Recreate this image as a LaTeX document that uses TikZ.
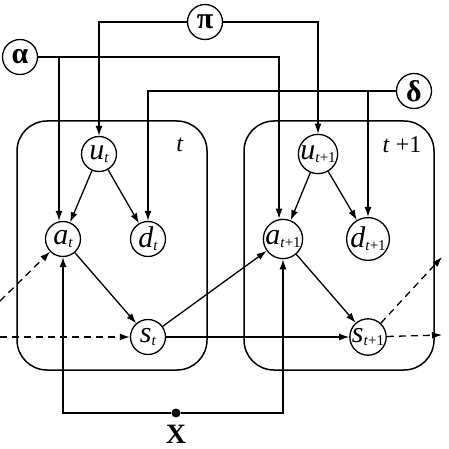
\documentclass[tikz,border=0pt]{standalone}
\usepackage{fontspec}
\setmainfont{Liberation Serif}
\usetikzlibrary{arrows.meta,calc}
\newcommand{\vsub}[2]{{\fontsize{30}{30}\selectfont\itshape #1}\raisebox{-0.3em}{\fontsize{15}{15}\selectfont #2}}
\newcommand{\grk}[1]{{\fontsize{30}{30}\selectfont\bfseries #1}}
\tikzset{
  var/.style={circle,draw,line width=1.3pt,minimum size=35pt,inner sep=0pt,fill=white},
  arr/.style={-{Latex[length=10pt,width=7pt]},line width=1.3pt},
  dsh/.style={dash pattern=on 7pt off 5pt},
  plate/.style={draw,line width=1.5pt,rounded corners=30pt,inner sep=0pt,minimum width=190pt,minimum height=249pt},
  lbl/.style={inner sep=0pt,font=\fontsize{24}{24}\selectfont}
}
\begin{document}
\begin{tikzpicture}[x=1pt,y=-1pt]
\useasboundingbox (0,0) rectangle (449,449);
\fill[white] (0,0) rectangle (449,449);
% plates
\node[plate] (plate1) at (112,245.5) {};
\node[plate] (plate2) at (339,245.5) {};
\node[lbl] (lt) at (180,145) {\textit{t}};
\node[lbl] (lt1) at (402,145) {\textit{t} +1};
% parameter nodes
\node[var] (alpha) at (20,57) {\grk{α}};
\node[var] (pi) at (205,22) {\grk{π}};
\node[var] (delta) at (414,91) {\grk{δ}};
% variables
\node[var] (ut) at (99,154) {\vsub{u}{\textit{t}}};
\node[var] (ut1) at (318,154) {\vsub{u}{\textit{t}+1}};
\node[var] (at) at (63,239) {\vsub{a}{\textit{t}}};
\node[var] (dt) at (148,239) {\vsub{d}{\textit{t}}};
\node[var] (at1) at (283,239) {\vsub{a}{\textit{t}+1}};
\node[var] (dt1) at (368,239) {\vsub{d}{\textit{t}+1}};
\node[var] (st) at (148,337) {\vsub{s}{\textit{t}}};
\node[var] (st1) at (368,337) {\vsub{s}{\textit{t}+1}};
% X
\node[circle,fill,inner sep=0pt,minimum size=9pt] (xdot) at (176,413) {};
\node[inner sep=0pt] (xlab) at (176,434) {\fontsize{28}{28}\selectfont\textbf{X}};
% free ends
\coordinate (inA) at (0,301);
\coordinate (inS) at (0,337);
\coordinate (outA) at (442,257);
\coordinate (outS) at (442,335);
% parameter connectors
\draw[arr] (pi) -| (ut);
\draw[arr] (pi) -| (ut1);
\draw[arr] (alpha) -| ([xshift=-4pt]at1.north);
\draw[arr] (alpha) -| ([xshift=-4pt]at.north);
\draw[arr] (delta) -| (dt);
\draw[arr] (delta) -| (dt1);
% inner connectors
\draw[arr] (ut) -- (at);
\draw[arr] (ut) -- (dt);
\draw[arr] (ut1) -- (at1);
\draw[arr] (ut1) -- (dt1);
\draw[arr] (at) -- (st);
\draw[arr] (at1) -- (st1);
\draw[arr] (st) -- (at1);
\draw[arr] (st) -- (st1);
% X connectors
\draw[arr] (xdot) -| (at);
\draw[arr] (xdot) -| (at1);
% dashed
\draw[arr,dsh] (inA) -- (at);
\draw[arr,dsh] (inS) -- (st);
\draw[arr,dsh] (st1) -- (outA);
\draw[arr,dsh] (st1) -- (outS);
\end{tikzpicture}
\end{document}
